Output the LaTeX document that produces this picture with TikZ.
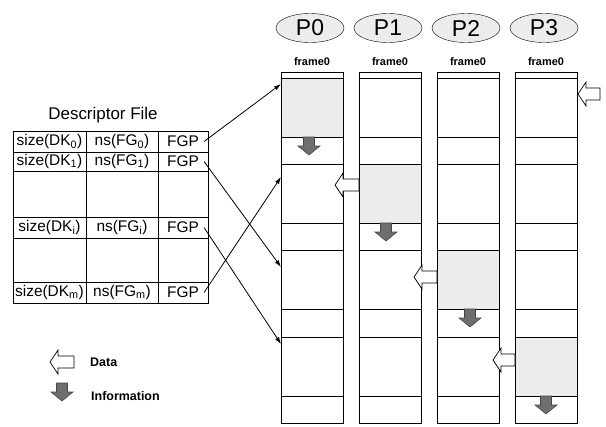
\documentclass[tikz,border=0pt]{standalone}
\usepackage{fontspec}
\setmainfont{Liberation Sans}
\usetikzlibrary{arrows.meta,positioning,shapes.geometric}
\definecolor{grisc}{RGB}{236,236,236}
\definecolor{grism}{RGB}{110,110,110}
\definecolor{grisd}{RGB}{70,70,70}
\tikzset{
  proc/.style={draw, ellipse, fill=grisc, minimum width=68bp, minimum height=29bp, inner sep=0pt, font=\fontsize{23}{25}\selectfont},
  flab/.style={font=\fontsize{11}{12}\selectfont\bfseries, inner sep=1pt},
  celda/.style={font=\fontsize{15.5}{17}\selectfont, inner sep=2pt},
  fgp/.style={celda, inner xsep=5bp},
  tit/.style={font=\fontsize{17}{19}\selectfont},
  leyenda/.style={font=\fontsize{12.5}{14}\selectfont\bfseries, anchor=west, inner sep=0pt},
  colbox/.style={draw, line width=0.8bp},
  sombra/.style={fill=grisc},
  fl/.style={-{Latex[length=7bp,width=4.5bp]}, line width=0.8bp},
  dato/.style={draw, fill=white, line width=0.7bp, line join=miter},
  info/.style={draw=grisd, fill=grism, line width=0.6bp},
}
% white block arrow pointing left: tip x, y, tail x
\newcommand{\flechadato}[3]{%
  \draw[dato] (#1,#2) -- (#1+8,#2-12) -- (#1+8,#2-6) -- (#3,#2-6)
    -- (#3,#2+6) -- (#1+8,#2+6) -- (#1+8,#2+12) -- cycle;}
% dark block arrow pointing down: x, top y
\newcommand{\flechainfo}[2]{%
  \draw[info] (#1-5.5,#2) -- (#1+5.5,#2) -- (#1+5.5,#2+9) -- (#1+11,#2+9)
    -- (#1,#2+18) -- (#1-11,#2+9) -- (#1-5.5,#2+9) -- cycle;}

\begin{document}
\begin{tikzpicture}[x=1bp,y=-1bp]
  \useasboundingbox (0,0) rectangle (606,426);

  % descriptor file
  \node[tit] (titulo) at (103,115) {Descriptor File};
  \draw[line width=0.8bp] (13,131) rectangle (208,303);
  \foreach \y in {152,171,217,238,282} \draw[line width=0.8bp] (13,\y) -- (208,\y);
  \foreach \x in {86,158} \draw[line width=0.8bp] (\x,131) -- (\x,303);
  \node[celda] (sz0) at (49.5,141.5) {size(DK\textsubscript{0})};
  \node[celda] (ns0) at (122,141.5) {ns(FG\textsubscript{0})};
  \node[fgp] (fgp0) at (183,141.5) {FGP};
  \node[celda] (sz1) at (49.5,161.5) {size(DK\textsubscript{1})};
  \node[celda] (ns1) at (122,161.5) {ns(FG\textsubscript{1})};
  \node[fgp] (fgp1) at (183,161.5) {FGP};
  \node[celda] (szi) at (49.5,227.5) {size(DK\textsubscript{i})};
  \node[celda] (nsi) at (122,227.5) {ns(FG\textsubscript{i})};
  \node[fgp] (fgpi) at (183,227.5) {FGP};
  \node[celda] (szm) at (49.5,292.5) {size(DK\textsubscript{m})};
  \node[celda] (nsm) at (122,292.5) {ns(FG\textsubscript{m})};
  \node[fgp] (fgpm) at (183,292.5) {FGP};

  % processes and their frames
  \foreach \c/\t in {312/78,390/164,468/250,546/337} {
    \fill[sombra] (\c-31,\t) rectangle (\c+31,\t+59);
  }
  \foreach \c [count=\i from 0] in {312,390,468,546} {
    \node[proc] (p\i) at (\c-2,28) {P\i};
    \node[flab] (f\i) at (\c,62) {frame0};
    \draw[colbox] (\c-31,72) rectangle (\c+31,423);
    \foreach \y in {78,137,164,223,250,309,337,396}
      \draw[line width=0.7bp] (\c-31,\y) -- (\c+31,\y);
  }
  \flechainfo{309}{137}
  \flechainfo{386}{223}
  \flechainfo{470}{309}
  \flechainfo{546}{396}
  \flechadato{335}{185}{359}
  \flechadato{414}{277}{437}
  \flechadato{493}{360}{515}
  \flechadato{578}{94}{600}

  % pointers into P0
  \coordinate (e0) at (281,84);
  \coordinate (e1) at (281,267);
  \coordinate (ei) at (281,344);
  \coordinate (em) at (281,177);
  \draw[fl] (fgp0.east) -- (e0);
  \draw[fl] (fgp1.east) -- (e1);
  \draw[fl] (fgpi.east) -- (ei);
  \draw[fl] (fgpm.east) -- (em);

  % legend
  \flechadato{50}{362}{74}
  \flechainfo{62}{383}
  \node[leyenda] (ldato) at (90,362) {Data};
  \node[leyenda] (linfo) at (91,396) {Information};
\end{tikzpicture}
\end{document}
